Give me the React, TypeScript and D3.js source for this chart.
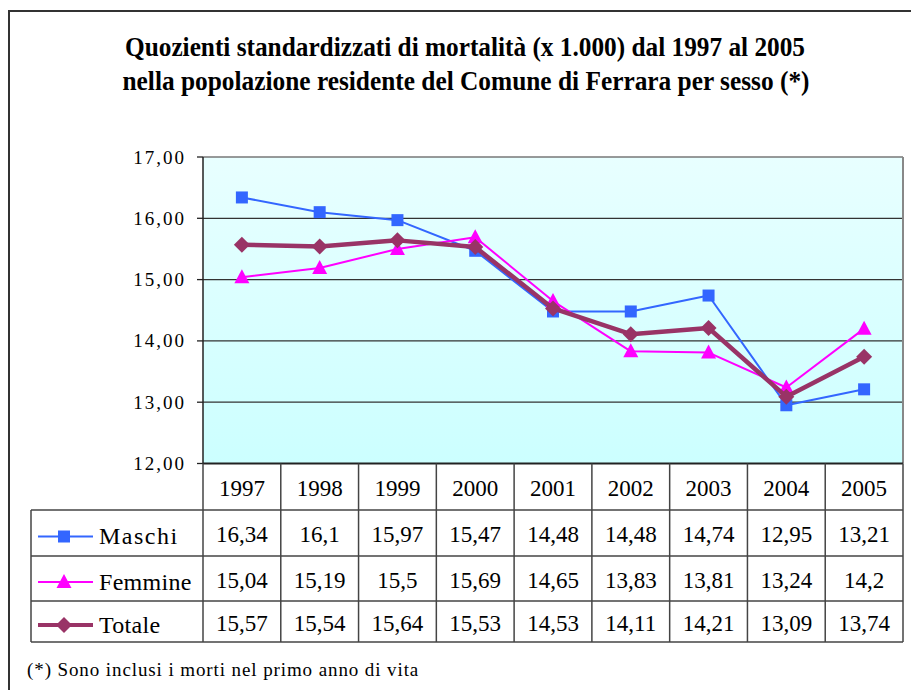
import React, { useEffect, useRef } from "react";
import * as d3 from "d3";

const years = ["1997", "1998", "1999", "2000", "2001", "2002", "2003", "2004", "2005"];
const maschi = [16.34, 16.1, 15.97, 15.47, 14.48, 14.48, 14.74, 12.95, 13.21];
const femmine = [15.04, 15.19, 15.5, 15.69, 14.65, 13.83, 13.81, 13.24, 14.2];
const totale = [15.57, 15.54, 15.64, 15.53, 14.53, 14.11, 14.21, 13.09, 13.74];
const yTicks = [12, 13, 14, 15, 16, 17];
const seriesNames = ["Maschi", "Femmine", "Totale"];
const tableLabels = [
  ["16,34", "16,1", "15,97", "15,47", "14,48", "14,48", "14,74", "12,95", "13,21"],
  ["15,04", "15,19", "15,5", "15,69", "14,65", "13,83", "13,81", "13,24", "14,2"],
  ["15,57", "15,54", "15,64", "15,53", "14,53", "14,11", "14,21", "13,09", "13,74"],
];
const titleLines = [
  "Quozienti standardizzati di mortalità (x 1.000) dal 1997 al 2005",
  "nella popolazione residente del Comune di Ferrara per sesso (*)",
];
const footnote = "(*) Sono inclusi i morti nel primo anno di vita";

const FONT = "Liberation Serif";
const colors = ["#3366FF", "#FF00FF", "#993366"];
const widths = [2, 2, 4.5];

function drawMarker(g: any, kind: number, x: number, y: number, color: string) {
  if (kind === 0) {
    g.append("rect").attr("x", x - 6).attr("y", y - 6).attr("width", 12).attr("height", 12).attr("fill", color);
  } else if (kind === 1) {
    g.append("path").attr("d", `M${x},${y - 8}L${x + 7.5},${y + 6}L${x - 7.5},${y + 6}Z`).attr("fill", color);
  } else {
    g.append("path").attr("d", `M${x},${y - 8}L${x + 8},${y}L${x},${y + 8}L${x - 8},${y}Z`).attr("fill", color);
  }
}

export default function App() {
  const ref = useRef<SVGSVGElement>(null);
  const W = 911, H = 690;

  useEffect(() => {
    const svg = d3.select(ref.current);
    svg.selectAll("*").remove();
    const left = 203, right = 903, top = 157, bottom = 463.5;
    const x = d3.scaleBand<string>().domain(years).range([left, right]).padding(0);
    const y = d3.scaleLinear().domain([12, 17]).range([bottom, top]);
    const cx = (yr: string) => (x(yr) as number) + x.bandwidth() / 2;
    const rows = [463.5, 510, 556, 601, 642];
    const tableLeft = 31;

    const defs = svg.append("defs");
    const grad = defs.append("linearGradient").attr("id", "bg").attr("x1", 0).attr("y1", 0).attr("x2", 0).attr("y2", 1);
    grad.append("stop").attr("offset", 0).attr("stop-color", "#E8FFFF");
    grad.append("stop").attr("offset", 1).attr("stop-color", "#CCFFFF");

    svg.append("rect").attr("width", W).attr("height", H).attr("fill", "#fff");
    svg.append("path").attr("d", `M9,${H + 5}V11H${W + 5}`).attr("fill", "none").attr("stroke", "#333").attr("stroke-width", 2);

    const txt = (xx: number, yy: number, s: string, size: number, anchor = "start") =>
      svg.append("text").attr("x", xx).attr("y", yy).attr("font-family", FONT).attr("font-size", size)
        .attr("text-anchor", anchor).attr("fill", "#000").text(s);

    txt(465, 56, titleLines[0], 28, "middle").attr("font-weight", "bold").attr("textLength", 680).attr("lengthAdjust", "spacingAndGlyphs");
    txt(466, 90, titleLines[1], 28, "middle").attr("font-weight", "bold").attr("textLength", 687).attr("lengthAdjust", "spacingAndGlyphs");

    svg.append("rect").attr("x", left).attr("y", top).attr("width", right - left).attr("height", bottom - top).attr("fill", "url(#bg)");
    yTicks.slice(1, -1).forEach((t) => {
      svg.append("line").attr("x1", left).attr("x2", right).attr("y1", y(t)).attr("y2", y(t)).attr("stroke", "#333").attr("stroke-width", 1.2);
    });
    svg.append("line").attr("x1", left).attr("x2", right).attr("y1", top).attr("y2", top).attr("stroke", "#777").attr("stroke-width", 1.5);
    svg.append("line").attr("x1", right).attr("x2", right).attr("y1", top).attr("y2", bottom).attr("stroke", "#888").attr("stroke-width", 2);
    svg.append("line").attr("x1", left).attr("x2", left).attr("y1", top).attr("y2", bottom).attr("stroke", "#222").attr("stroke-width", 1.5);
    yTicks.forEach((t) => {
      svg.append("line").attr("x1", 197).attr("x2", left).attr("y1", y(t)).attr("y2", y(t)).attr("stroke", "#222").attr("stroke-width", 1.3);
      txt(186, y(t) + 6.5, d3.format(".2f")(t).replace(".", ","), 19, "end").attr("letter-spacing", 2);
    });

    const line = d3.line<number>().x((_, i) => cx(years[i])).y((v) => y(v));
    [maschi, femmine, totale].forEach((vals, si) => {
      const g = svg.append("g");
      g.append("path").attr("d", line(vals) || "").attr("fill", "none").attr("stroke", colors[si])
        .attr("stroke-width", widths[si]).attr("stroke-linejoin", "round");
      vals.forEach((v, i) => drawMarker(g, si, cx(years[i]), y(v), colors[si]));
    });

    const tg = svg.append("g").attr("stroke", "#444").attr("stroke-width", 1.5);
    tg.append("line").attr("x1", left).attr("x2", right).attr("y1", rows[0]).attr("y2", rows[0]).attr("stroke", "#222").attr("stroke-width", 2);
    rows.slice(1).forEach((r) => tg.append("line").attr("x1", tableLeft).attr("x2", right).attr("y1", r).attr("y2", r));
    years.forEach((yr) => tg.append("line").attr("x1", x(yr) as number).attr("x2", x(yr) as number).attr("y1", rows[0]).attr("y2", rows[4]));
    tg.append("line").attr("x1", right).attr("x2", right).attr("y1", rows[0]).attr("y2", rows[4]);
    tg.append("line").attr("x1", tableLeft).attr("x2", tableLeft).attr("y1", rows[1]).attr("y2", rows[4]);

    years.forEach((yr) => txt(cx(yr), (rows[0] + rows[1]) / 2 + 9, yr, 23, "middle"));
    tableLabels.forEach((row, ri) => {
      const mid = (rows[ri + 1] + rows[ri + 2]) / 2;
      row.forEach((lab, i) => txt(cx(years[i]), mid + 9, lab, 23, "middle"));
      svg.append("line").attr("x1", 38).attr("x2", 93).attr("y1", mid + 3.5).attr("y2", mid + 3.5)
        .attr("stroke", colors[ri]).attr("stroke-width", ri === 2 ? 4 : 2);
      drawMarker(svg, ri, 64, mid + 3.5, colors[ri]);
      txt(99, mid + 11, seriesNames[ri], 24).attr("letter-spacing", ri === 0 ? 1.5 : 0.3);
    });

    txt(27, 676, footnote, 19).attr("letter-spacing", 0.9);
  }, []);

  return <svg ref={ref} width={W} height={H} style={{ position: "absolute", left: 0, top: 0 }} />;
}
